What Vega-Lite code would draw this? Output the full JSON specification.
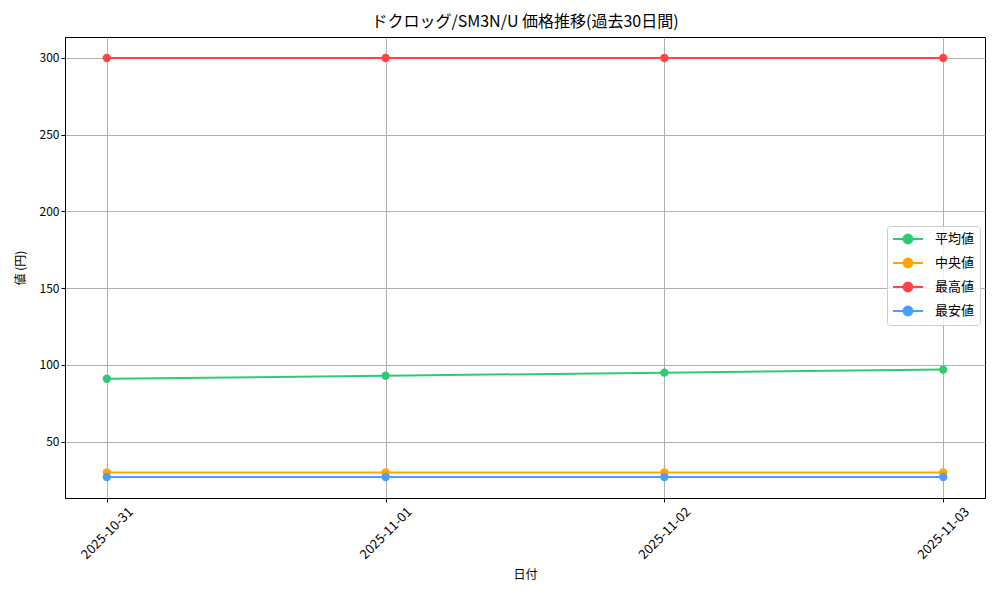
{
  "$schema": "https://vega.github.io/schema/vega-lite/v6.json",
  "autosize": "none",
  "padding": {"left": 65, "top": 37, "right": 15, "bottom": 102},
  "width": 920,
  "height": 461,
  "background": "white",
  "title": {
    "text": "ドクロッグ/SM3N/U 価格推移(過去30日間)",
    "font": "Noto Sans CJK JP",
    "fontSize": 16,
    "fontWeight": "normal",
    "color": "black",
    "offset": 7
  },
  "data": {
    "values": [
      {"date": "2025-10-31", "series": "平均値", "price": 91},
      {"date": "2025-11-01", "series": "平均値", "price": 93},
      {"date": "2025-11-02", "series": "平均値", "price": 95},
      {"date": "2025-11-03", "series": "平均値", "price": 97},
      {"date": "2025-10-31", "series": "中央値", "price": 30},
      {"date": "2025-11-01", "series": "中央値", "price": 30},
      {"date": "2025-11-02", "series": "中央値", "price": 30},
      {"date": "2025-11-03", "series": "中央値", "price": 30},
      {"date": "2025-10-31", "series": "最高値", "price": 300},
      {"date": "2025-11-01", "series": "最高値", "price": 300},
      {"date": "2025-11-02", "series": "最高値", "price": 300},
      {"date": "2025-11-03", "series": "最高値", "price": 300},
      {"date": "2025-10-31", "series": "最安値", "price": 27},
      {"date": "2025-11-01", "series": "最安値", "price": 27},
      {"date": "2025-11-02", "series": "最安値", "price": 27},
      {"date": "2025-11-03", "series": "最安値", "price": 27}
    ]
  },
  "mark": {"type": "line", "strokeWidth": 2, "point": {"size": 70, "opacity": 1, "filled": true}},
  "encoding": {
    "x": {
      "field": "date",
      "type": "ordinal",
      "title": "日付",
      "scale": {"type": "point", "padding": 0.15},
      "axis": {
        "labelAngle": -45,
        "labelAlign": "center",
        "labelBaseline": "middle",
        "labelPadding": 31,
        "labelFontSize": 13,
        "titleFontSize": 12,
        "titleFontWeight": "normal",
        "titlePadding": 8,
        "grid": true
      }
    },
    "y": {
      "field": "price",
      "type": "quantitative",
      "title": "値 (円)",
      "scale": {"domain": [13.35, 313.65], "nice": false, "zero": false},
      "axis": {
        "values": [50, 100, 150, 200, 250, 300],
        "labelFontSize": 12,
        "titleFontSize": 12,
        "titleFontWeight": "normal",
        "titlePadding": 12,
        "grid": true
      }
    },
    "color": {
      "field": "series",
      "type": "nominal",
      "sort": ["平均値", "中央値", "最高値", "最安値"],
      "scale": {
        "domain": ["平均値", "中央値", "最高値", "最安値"],
        "range": ["#2ecc71", "#ffa500", "#ff4444", "#4a9eff"]
      },
      "legend": {
        "title": null,
        "orient": "none",
        "legendX": 822,
        "legendY": 189,
        "symbolType": "M-1,0L3.29,0M0.5,0A0.64,0.64,0,1,0,1.78,0A0.64,0.64,0,1,0,0.5,0Z",
        "symbolSize": 196,
        "symbolStrokeWidth": 2,
        "symbolOpacity": 1,
        "labelFontSize": 13,
        "labelOffset": 27,
        "rowPadding": 6,
        "padding": 5,
        "strokeColor": "#cccccc",
        "fillColor": "rgba(255,255,255,0.8)",
        "cornerRadius": 3,
        "encode": {
          "symbols": {
            "update": {
              "fill": {"scale": "color", "field": "value"},
              "stroke": {"scale": "color", "field": "value"}
            }
          }
        }
      }
    }
  },
  "config": {
    "font": "Noto Sans CJK JP",
    "view": {"stroke": "black", "strokeWidth": 1},
    "axis": {
      "domainColor": "black",
      "tickColor": "black",
      "tickSize": 4,
      "labelColor": "black",
      "titleColor": "black",
      "gridColor": "#b0b0b0",
      "gridWidth": 1
    }
  }
}
